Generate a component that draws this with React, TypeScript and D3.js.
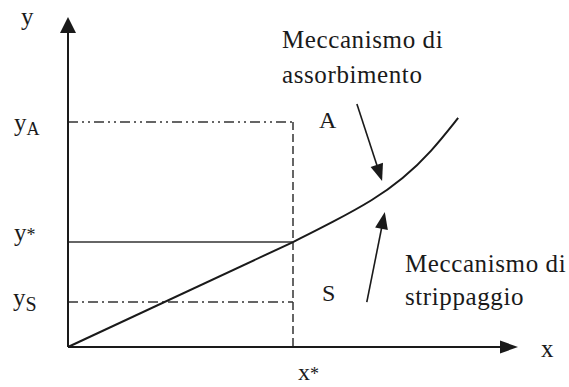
import React from "react";
import * as d3 from "d3";

// Schematic data (data units)
const linePart = [
  { x: 0, y: 0 },
  { x: 5.0, y: 3.18 },
];
const curvePart = [
  { x: 5.0, y: 3.18 },
  { x: 5.89, y: 3.79 },
  { x: 6.78, y: 4.45 },
  { x: 7.44, y: 5.09 },
  { x: 8.07, y: 5.91 },
  { x: 8.67, y: 6.94 },
];
const xStar = 5.0;
const yLevels = { A: 6.82, star: 3.18, S: 1.36 };
const arrowAbs = { from: { x: 6.42, y: 7.36 }, to: { x: 6.98, y: 5.03 } };
const arrowStr = { from: { x: 6.64, y: 1.36 }, to: { x: 7.04, y: 4.09 } };
const absLabel = ["Meccanismo di", "assorbimento"];
const strLabel = ["Meccanismo di", "strippaggio"];

const W = 569;
const H = 387;
const FONT = "'Liberation Serif', 'Times New Roman', serif";
const INK = "#1a1a1a";

export default function App() {
  const x = d3.scaleLinear().domain([0, 10]).range([68, 518]);
  const y = d3.scaleLinear().domain([0, 10]).range([347, 17]);
  const line = d3
    .line<{ x: number; y: number }>()
    .x((d) => x(d.x))
    .y((d) => y(d.y));
  const curve = d3
    .line<{ x: number; y: number }>()
    .x((d) => x(d.x))
    .y((d) => y(d.y))
    .curve(d3.curveBasis);

  const arrowHead = (
    fx: number,
    fy: number,
    tx: number,
    ty: number,
    len: number,
    half: number
  ) => {
    const ang = Math.atan2(ty - fy, tx - fx);
    const bx = tx - len * Math.cos(ang);
    const by = ty - len * Math.sin(ang);
    const px = -Math.sin(ang) * half;
    const py = Math.cos(ang) * half;
    return `M${tx},${ty}L${bx + px},${by + py}L${bx - px},${by - py}Z`;
  };

  const arrow = (a: { from: { x: number; y: number }; to: { x: number; y: number } }, key: string) => {
    const fx = x(a.from.x), fy = y(a.from.y), tx = x(a.to.x), ty = y(a.to.y);
    const ang = Math.atan2(ty - fy, tx - fx);
    const ex = tx - 14 * Math.cos(ang), ey = ty - 14 * Math.sin(ang);
    return (
      <g key={key}>
        <line x1={fx} y1={fy} x2={ex} y2={ey} stroke={INK} strokeWidth={1.6} />
        <path d={arrowHead(fx, fy, tx, ty, 17, 6.5)} fill={INK} />
      </g>
    );
  };

  const x0 = x(0), y0 = y(0);
  const xs = x(xStar);

  return (
    <svg
      width={W}
      height={H}
      style={{ position: "absolute", left: 0, top: 0, background: "#fff" }}
      fontFamily={FONT}
      fill={INK}
    >
      {/* guide lines */}
      <line x1={x0} x2={xs} y1={y(yLevels.A)} y2={y(yLevels.A)} stroke="#333" strokeWidth={1.5} strokeDasharray="10,4,2,4,2,4" />
      <line x1={x0} x2={xs} y1={y(yLevels.star)} y2={y(yLevels.star)} stroke="#333" strokeWidth={1.5} />
      <line x1={x0} x2={xs} y1={y(yLevels.S)} y2={y(yLevels.S)} stroke="#333" strokeWidth={1.5} strokeDasharray="10,4,2,4" />
      <line x1={xs} x2={xs} y1={y(yLevels.A)} y2={y0} stroke="#333" strokeWidth={1.5} strokeDasharray="8,4" />

      {/* equilibrium line */}
      <path d={line(linePart) || ""} fill="none" stroke={INK} strokeWidth={2} />
      <path d={curve(curvePart) || ""} fill="none" stroke={INK} strokeWidth={2} />

      {/* axes */}
      <line x1={x0} x2={x0} y1={y0} y2={y(10) + 12} stroke={INK} strokeWidth={2} />
      <path d={arrowHead(x0, y0, x0, y(10), 16, 8)} fill={INK} />
      <line x1={x0} x2={x(10) - 14} y1={y0} y2={y0} stroke={INK} strokeWidth={2} />
      <path d={arrowHead(x0, y0, x(10), y0, 18, 6.5)} fill={INK} />

      {/* arrows */}
      {arrow(arrowAbs, "abs")}
      {arrow(arrowStr, "str")}

      {/* axis labels */}
      <text x={21} y={25} fontSize={25}>y</text>
      <text x={541} y={357} fontSize={25}>x</text>
      <text x={298} y={380} fontSize={24}>
        x<tspan fontSize={18}>*</tspan>
      </text>
      <text x={14} y={131} fontSize={25}>
        y<tspan fontSize={18} dy={4}>A</tspan>
      </text>
      <text x={14} y={241} fontSize={25}>
        y<tspan fontSize={18}>*</tspan>
      </text>
      <text x={13} y={306} fontSize={25}>
        y<tspan fontSize={20} dy={5}>S</tspan>
      </text>

      <text x={319} y={128} fontSize={24}>A</text>
      <text x={322} y={301} fontSize={24}>S</text>

      {absLabel.map((t, i) => (
        <text key={"a" + i} x={282} y={48 + i * 35} fontSize={25} letterSpacing={0.6}>
          {t}
        </text>
      ))}
      {strLabel.map((t, i) => (
        <text key={"s" + i} x={405} y={272 + i * 33} fontSize={25} letterSpacing={0.6}>
          {t}
        </text>
      ))}
    </svg>
  );
}
